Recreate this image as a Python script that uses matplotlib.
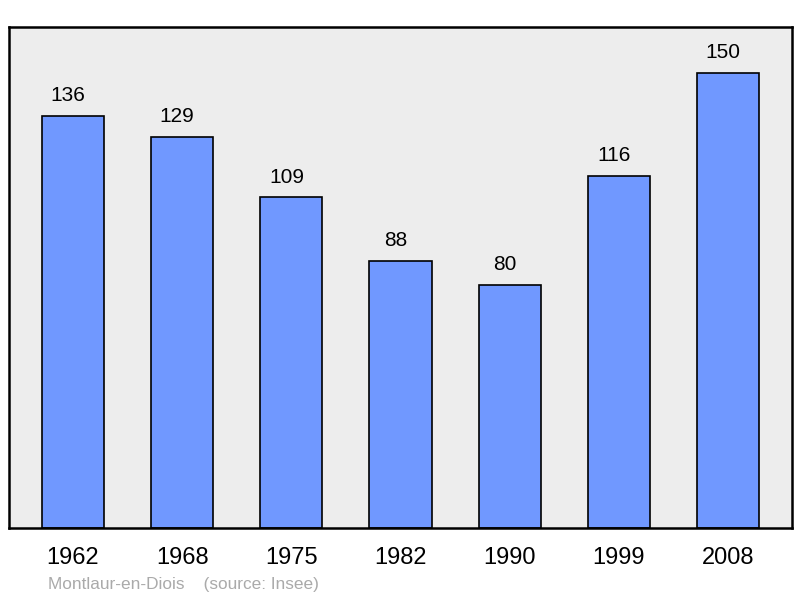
import matplotlib.pyplot as plt

plt.rcParams['font.family'] = ['Liberation Sans', 'DejaVu Sans']

years = ['1962', '1968', '1975', '1982', '1990', '1999', '2008']
population = [136, 129, 109, 88, 80, 116, 150]

fig = plt.figure(figsize=(8, 5.98), dpi=100)
ax = fig.add_axes([9/800, 1-528/598, 783/800, 501/598])
ax.set_facecolor('#ededed')

x = range(len(years))
ax.bar(x, population, width=0.57, color='#7098ff', edgecolor='black', linewidth=1.2, zorder=2)
# value labels sit slightly left of the bar centre in the original
for i, v in zip(x, population):
    ax.text(i - 0.045, v + 3.6, str(v), ha='center', va='bottom', fontsize=15)

ax.set_xlim(-0.585, 6.585)
ax.set_ylim(0, 165.2)
ax.set_xticks(list(x))
ax.set_xticklabels(years, fontsize=17)
ax.tick_params(axis='x', length=0, pad=14)
ax.set_yticks([])
for s in ax.spines.values():
    s.set_linewidth(1.8)

fig.text(48/800, 1-584/598, 'Montlaur-en-Diois    (source: Insee)', fontsize=12.4,
         color='#aaaaaa', va='center')

fig.savefig('out.png', dpi=100)
